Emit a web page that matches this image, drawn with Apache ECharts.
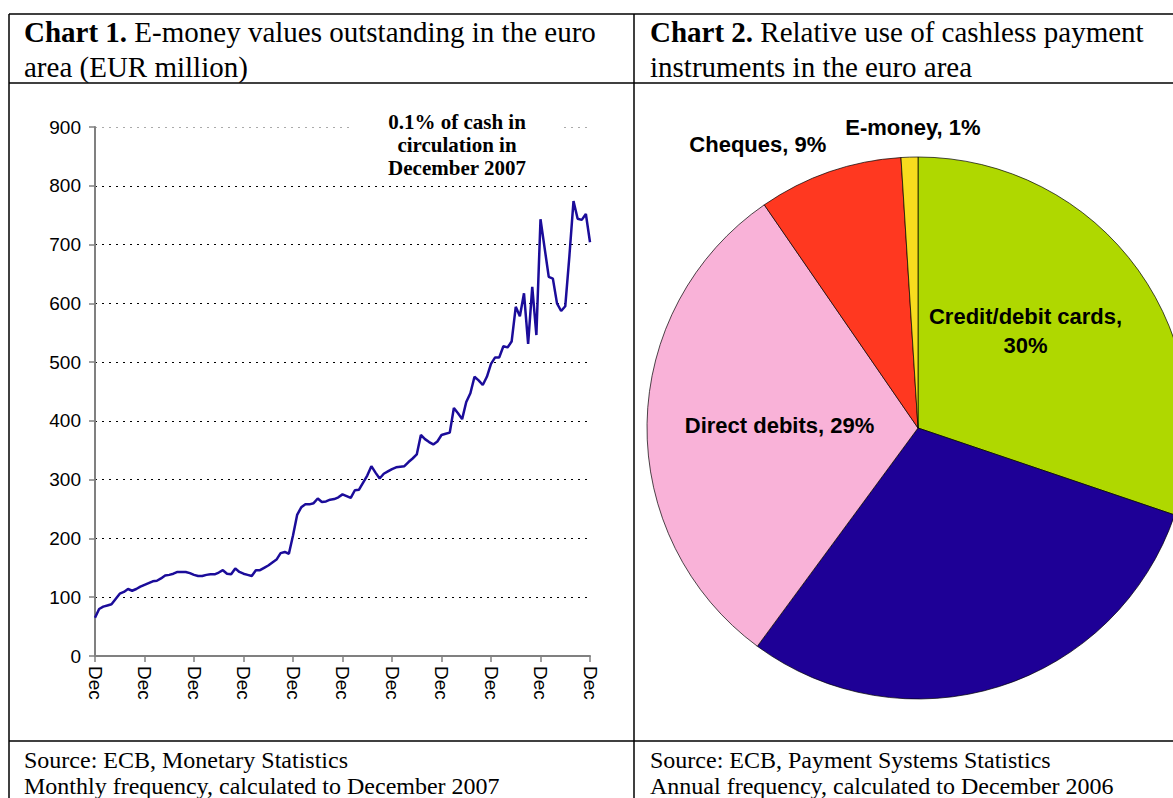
<!DOCTYPE html>
<html>
<head>
<meta charset="utf-8">
<script src="https://cdn.jsdelivr.net/npm/echarts@6/dist/echarts.min.js"></script>
<style>
  html, body { margin: 0; padding: 0; background: #fff; }
  #chart { width: 1173px; height: 798px; }
</style>
</head>
<body>
<div id="chart"></div>
<script>
// monthly e-money outstanding, Dec 1997 .. Dec 2007 (EUR million)
const emoney = [
  65, 80, 84, 86, 88, 97, 106, 109, 114, 111, 114, 118, 121,
  124, 127, 128, 132, 137, 138, 140, 143, 143, 143, 141, 138,
  136, 136, 138, 139, 139, 142, 146, 140, 139, 149, 143, 140,
  138, 136, 146, 146, 150, 154, 159, 164, 175, 177, 174, 205,
  240, 253, 258, 258, 260, 268, 262, 263, 266, 267, 270, 275,
  272, 269, 282, 283, 295, 307, 323, 312, 302, 310, 314, 318,
  321, 322, 323, 330, 336, 343, 376, 369, 364, 360, 365, 376,
  378, 380, 422, 413, 403, 432, 447, 475, 469, 461, 475, 497,
  508, 508, 527, 525, 535, 594, 578, 617, 531, 628, 546, 743,
  694, 645, 642, 600, 587, 595, 680, 774, 744, 742, 752, 704
];
const monthNames = ['Jan','Feb','Mar','Apr','May','Jun','Jul','Aug','Sep','Oct','Nov','Dec'];
const startYear = 1997;

// cashless payment instruments: slice sizes as drawn, and the printed labels
const instruments = ['Credit/debit cards', 'Credit transfers', 'Direct debits', 'Cheques', 'E-money'];
const shares = [30.2, 29.9, 30.3, 8.6, 1.0];
const shareLabels = ['30%', '', '29%', '9%', '1%'];
const sliceColors = ['#AFD800', '#1E0096', '#F9B2D8', '#FF3820', '#F8DC1E'];

// build month categories
let months = [];
for (let i = 0; i < emoney.length; i++) {
  let m = (11 + i) % 12;
  let y = startYear + Math.floor((11 + i) / 12);
  months.push(monthNames[m] + ' ' + y);
}

const serif = '"Liberation Serif", "Times New Roman", serif';
const sans = '"Liberation Sans", Arial, sans-serif';

let chart = echarts.init(document.getElementById('chart'), null, { renderer: 'svg' });

let pieData = instruments.map((n, i) => {
  let item = { name: n, value: shares[i], itemStyle: { color: sliceColors[i] } };
  if (shareLabels[i] === '') item.label = { show: false };
  if (n === 'Cheques' || n === 'E-money') {
    item.label = { position: 'outside' };
    item.labelLine = { show: false, length: 30, length2: 0 };
  }
  return item;
});
pieData[0].label = { formatter: p => p.name + ',\n' + shareLabels[p.dataIndex] };

// nudges so the labels sit where the printed ones do
const labelShift = { 0: [-5, -16], 3: [42, -14], 4: [77, 0] };

let titleStyle = {
  fontFamily: serif, fontSize: 29, color: '#000', fontWeight: 'normal', lineHeight: 35,
  rich: { b: { fontFamily: serif, fontSize: 29, fontWeight: 'bold', lineHeight: 35 } }
};
let sourceStyle = { fontFamily: serif, fontSize: 24, color: '#000', fontWeight: 'normal', lineHeight: 26 };

let option = {
  animation: false,
  backgroundColor: '#fff',
  title: [
    { left: 24, top: 14, padding: 0, text: '{b|Chart 1.} E-money values outstanding in the euro\narea (EUR million)', textStyle: titleStyle },
    { left: 650, top: 14, padding: 0, text: '{b|Chart 2.} Relative use of cashless payment\ninstruments in the euro area', textStyle: titleStyle },
    { left: 24, top: 747, padding: 0, text: 'Source: ECB, Monetary Statistics\nMonthly frequency, calculated to December 2007', textStyle: sourceStyle },
    { left: 650, top: 747, padding: 0, text: 'Source: ECB, Payment Systems Statistics\nAnnual frequency, calculated to December 2006', textStyle: sourceStyle }
  ],
  grid: { left: 95, right: 583, top: 127, bottom: 142 },
  xAxis: {
    type: 'category',
    data: months,
    boundaryGap: false,
    axisLine: { lineStyle: { color: '#808080', width: 2 } },
    axisTick: { interval: 11, length: 6, lineStyle: { color: '#808080', width: 1.5 } },
    axisLabel: {
      interval: 11, rotate: -90, margin: 10,
      fontFamily: sans, fontSize: 19, color: '#000',
      formatter: v => v.split(' ')[0]
    },
    splitLine: { show: false }
  },
  yAxis: {
    type: 'value',
    min: 0, max: 900, interval: 100,
    axisLine: { show: true, lineStyle: { color: '#808080', width: 2 } },
    axisTick: { show: true, length: 6, lineStyle: { color: '#808080', width: 1.5 } },
    axisLabel: { fontFamily: sans, fontSize: 19, color: '#000', margin: 14 },
    splitLine: {
      show: true,
      lineStyle: {
        type: [2, 5], width: 1,
        color: ['#000', '#000', '#000', '#000', '#000', '#000', '#000', '#000', '#000', '#aaa']
      }
    }
  },
  graphic: [
    // table lines
    { type: 'line', shape: { x1: 9, y1: 14, x2: 1173, y2: 14 }, style: { stroke: '#000', lineWidth: 1.5 } },
    { type: 'line', shape: { x1: 9, y1: 83, x2: 1173, y2: 83 }, style: { stroke: '#000', lineWidth: 1.5 } },
    { type: 'line', shape: { x1: 9, y1: 741, x2: 1173, y2: 741 }, style: { stroke: '#000', lineWidth: 1.5 } },
    { type: 'line', shape: { x1: 9, y1: 14, x2: 9, y2: 798 }, style: { stroke: '#000', lineWidth: 1.5 } },
    { type: 'line', shape: { x1: 634, y1: 14, x2: 634, y2: 798 }, style: { stroke: '#000', lineWidth: 1.5 } },
    // annotation box over the top gridlines
    { type: 'rect', z: 100, shape: { x: 352, y: 106, width: 212, height: 78 }, style: { fill: '#fff' } },
    {
      type: 'text', z: 101, x: 457, y: 145,
      style: {
        text: '0.1% of cash in\ncirculation in\nDecember 2007',
        font: 'bold 21px ' + serif, fill: '#000',
        align: 'center', verticalAlign: 'middle', lineHeight: 23
      }
    }
  ],
  series: [
    {
      type: 'line',
      data: emoney,
      showSymbol: false,
      lineStyle: { color: '#1B0C9A', width: 2.5 },
      z: 5
    },
    {
      type: 'pie',
      center: [918, 428],
      radius: 271,
      startAngle: 90,
      clockwise: true,
      data: pieData,
      itemStyle: { borderColor: '#000', borderWidth: 0.7 },
      label: {
        show: true,
        position: 'inside',
        formatter: p => p.name + ', ' + shareLabels[p.dataIndex],
        fontFamily: sans, fontSize: 22, fontWeight: 'bold', color: '#000', lineHeight: 29
      },
      labelLayout: p => {
        let s = labelShift[p.dataIndex];
        return s ? { dx: s[0], dy: s[1] } : {};
      }
    }
  ]
};

chart.setOption(option);
</script>
</body>
</html>
